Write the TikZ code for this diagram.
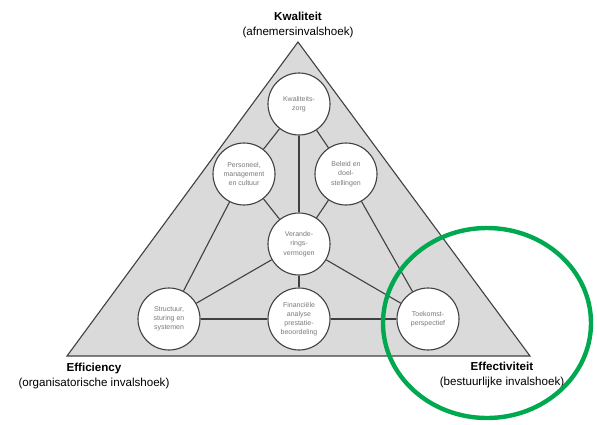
\documentclass[tikz,border=0pt]{standalone}
\usepackage{fontspec}
\setmainfont{Liberation Sans}
\definecolor{tri}{HTML}{DADADA}
\definecolor{edge}{HTML}{404040}
\definecolor{ctext}{HTML}{7A7A7A}
\definecolor{ring}{RGB}{0,168,80}
\begin{document}
\begin{tikzpicture}[x=1pt,y=-1pt,
  bubble/.style={circle,draw=edge,line width=1.1pt,fill=white,minimum size=62pt,inner sep=0pt,
    align=center,font=\fontsize{7}{9.2}\selectfont,text=ctext},
  link/.style={draw=edge,line width=1.1pt},
  corner/.style={align=center,font=\fontsize{11.6}{15}\selectfont,text=black}]
\useasboundingbox (0,0) rectangle (597,424);
% triangle
\coordinate (A) at (298,42);
\coordinate (B) at (67,356);
\coordinate (C) at (530,356);
\draw[fill=tri,draw=edge,line width=1.1pt,line join=miter] (A) -- (B) -- (C) -- cycle;
% circles
\node[bubble] (kz) at (299,104) {Kwaliteits-\\zorg};
\node[bubble] (pm) at (244,174) {Personeel,\\management\\en cultuur};
\node[bubble] (bd) at (346,174) {Beleid en\\doel-\\stellingen};
\node[bubble] (vv) at (299,244) {Verande-\\rings-\\vermogen};
\node[bubble] (ss) at (169,319) {Structuur,\\sturing en\\systemen};
\node[bubble] (fa) at (299,319) {Financiële\\analyse\\prestatie-\\beoordeling};
\node[bubble] (tp) at (428,319) {Toekomst-\\perspectief};
% links
\path[link] (kz) -- (pm);
\path[link] (kz) -- (bd);
\path[link] (kz) -- (vv);
\path[link] (pm) -- (vv);
\path[link] (bd) -- (vv);
\path[link] (pm) -- (ss);
\path[link] (bd) -- (tp);
\path[link] (vv) -- (ss);
\path[link] (vv) -- (fa);
\path[link] (vv) -- (tp);
\path[link] (ss) -- (fa);
\path[link] (fa) -- (tp);
% corner labels
\node[corner] (kw) at (298,25) {\textbf{Kwaliteit}\\(afnemersinvalshoek)};
\node[corner] (ef) at (94,376) {\textbf{Efficiency}\\(organisatorische invalshoek)};
\node[corner] (et) at (502,375) {\textbf{Effectiviteit}\\(bestuurlijke invalshoek)};
% green ring
\draw[ring,line width=4.4pt] (487,323) ellipse [x radius=104, y radius=95];
\end{tikzpicture}
\end{document}
